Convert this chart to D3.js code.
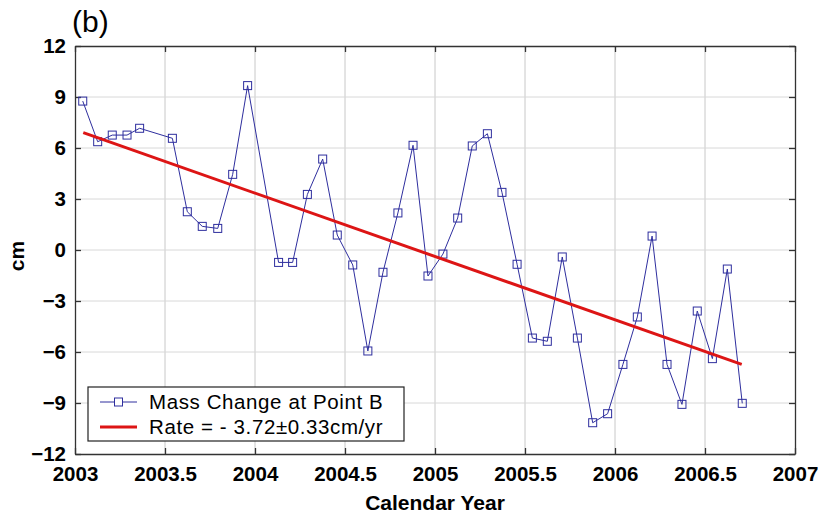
<!DOCTYPE html>
<html>
<head>
<meta charset="utf-8">
<script src="https://cdn.jsdelivr.net/npm/d3@7"></script>
<style>
  body { margin: 0; background: #fff; }
  text { font-family: "Liberation Sans", Arial, sans-serif; }
  .axis text { font-size: 20.5px; font-weight: bold; }
  .label { font-size: 21px; font-weight: bold; }
</style>
</head>
<body>
<script>
var margin = {top: 46, right: 27, bottom: 64, left: 75};
var width = 822 - margin.left - margin.right;
var height = 518 - margin.top - margin.bottom;

// data (decimal year, cm)
var years = [2003.043, 2003.126, 2003.207, 2003.289, 2003.359, 2003.541, 2003.624, 2003.707,
  2003.793, 2003.876, 2003.959, 2004.131, 2004.209, 2004.291, 2004.376, 2004.457, 2004.543,
  2004.627, 2004.711, 2004.794, 2004.878, 2004.961, 2005.044, 2005.126, 2005.207, 2005.291,
  2005.372, 2005.456, 2005.541, 2005.624, 2005.707, 2005.791, 2005.876, 2005.959, 2006.044,
  2006.124, 2006.206, 2006.289, 2006.372, 2006.457, 2006.541, 2006.624, 2006.707];
var mass = [8.76, 6.37, 6.76, 6.76, 7.16, 6.57, 2.25, 1.39, 1.27, 4.45, 9.67, -0.73, -0.73,
  3.27, 5.35, 0.88, -0.88, -5.94, -1.31, 2.18, 6.16, -1.53, -0.24, 1.88, 6.12, 6.84, 3.39,
  -0.84, -5.18, -5.37, -0.41, -5.18, -10.16, -9.63, -6.73, -3.94, 0.82, -6.73, -9.08, -3.59,
  -6.39, -1.12, -9.02];
var rateYears = [2003.046, 2006.704];
var rateValues = [6.9, -6.73];
var xTicks = [2003, 2003.5, 2004, 2004.5, 2005, 2005.5, 2006, 2006.5, 2007];
var yTicks = [-12, -9, -6, -3, 0, 3, 6, 9, 12];
var legendLabels = ['Mass Change at Point B', 'Rate = - 3.72\u00b10.33cm/yr'];

var blue = '#2e2e9e';
var red = '#dd1515';

var svg = d3.select('body')
  .append('svg')
  .attr('width', 822)
  .attr('height', 518)
.append('g')
  .attr('transform', 'translate(' + margin.left + ',' + margin.top + ')');

var xScale = d3.scaleLinear().domain([2003, 2007]).range([0, width]);
var yScale = d3.scaleLinear().domain([-12, 12]).range([height, 0]);

// grid
svg.append('g').selectAll('line')
  .data(xTicks.slice(1, -1)).enter().append('line')
  .attr('x1', function(d){ return xScale(d); })
  .attr('x2', function(d){ return xScale(d); })
  .attr('y1', 0).attr('y2', height)
  .attr('stroke', '#c8c8c8').attr('stroke-width', 1);
svg.append('g').selectAll('line')
  .data(yTicks.slice(1, -1)).enter().append('line')
  .attr('y1', function(d){ return yScale(d); })
  .attr('y2', function(d){ return yScale(d); })
  .attr('x1', 0).attr('x2', width)
  .attr('stroke', '#d8d8d8').attr('stroke-width', 1);

// axes, ticks point inward
var xAxis = d3.axisBottom(xScale).tickValues(xTicks).tickSizeInner(-6).tickSizeOuter(0)
  .tickPadding(12).tickFormat(function(d){ return String(d); });
var yAxis = d3.axisLeft(yScale).tickValues(yTicks).tickSizeInner(-6).tickSizeOuter(0).tickPadding(9);

svg.append('g')
  .attr('class', 'x axis')
  .attr('transform', 'translate(0,' + height + ')')
  .call(xAxis);
svg.append('g')
  .attr('class', 'y axis')
  .call(yAxis);
svg.append('g')
  .attr('transform', 'translate(0,0)')
  .call(d3.axisTop(xScale).tickValues(xTicks).tickSizeInner(-6).tickSizeOuter(0).tickFormat(''));
svg.append('g')
  .attr('transform', 'translate(' + width + ',0)')
  .call(d3.axisRight(yScale).tickValues(yTicks).tickSizeInner(-6).tickSizeOuter(0).tickFormat(''));

svg.selectAll('.domain').attr('stroke', '#333').attr('stroke-width', 1.3);
svg.selectAll('.tick line').attr('stroke', '#333').attr('stroke-width', 1.3);
svg.selectAll('.axis text').attr('fill', '#000');

// data line + square markers
var pts = years.map(function(y, i){ return [y, mass[i]]; });
var line = d3.line()
  .x(function(d){ return xScale(d[0]); })
  .y(function(d){ return yScale(d[1]); });

svg.append('path')
  .datum(pts)
  .attr('d', line)
  .attr('fill', 'none')
  .attr('stroke', blue)
  .attr('stroke-width', 1);

svg.selectAll('.square')
  .data(pts).enter().append('rect')
  .attr('class', 'square')
  .attr('x', function(d){ return xScale(d[0]) - 4; })
  .attr('y', function(d){ return yScale(d[1]) - 4; })
  .attr('width', 8).attr('height', 8)
  .attr('fill', 'none')
  .attr('stroke', blue)
  .attr('stroke-width', 1);

// rate line
svg.append('path')
  .datum(rateYears.map(function(y, i){ return [y, rateValues[i]]; }))
  .attr('d', line)
  .attr('fill', 'none')
  .attr('stroke', red)
  .attr('stroke-width', 3);

// labels
svg.append('text')
  .attr('class', 'label')
  .attr('x', width / 2)
  .attr('y', height + 56)
  .attr('text-anchor', 'middle')
  .text('Calendar Year');

svg.append('text')
  .attr('class', 'label')
  .attr('transform', 'translate(-51,' + (height / 2 + 6) + ') rotate(-90)')
  .attr('text-anchor', 'middle')
  .text('cm');

svg.append('text')
  .attr('x', -3)
  .attr('y', -14)
  .style('font-size', '30px')
  .text('(b)');

// legend
var legend = svg.append('g').attr('transform', 'translate(13,341)');
legend.append('rect')
  .attr('width', 316).attr('height', 54)
  .attr('fill', '#fff').attr('stroke', '#222').attr('stroke-width', 1.2);

var rows = legend.selectAll('.legend')
  .data(legendLabels).enter().append('g')
  .attr('class', 'legend')
  .attr('transform', function(d, i){ return 'translate(0,' + (15 + i * 25) + ')'; });

rows.append('line')
  .attr('x1', 12).attr('x2', 49)
  .attr('stroke', function(d, i){ return i == 0 ? blue : red; })
  .attr('stroke-width', function(d, i){ return i == 0 ? 1 : 3; });

rows.filter(function(d, i){ return i == 0; }).append('rect')
  .attr('x', 26.5).attr('y', -4).attr('width', 8).attr('height', 8)
  .attr('fill', '#fff').attr('stroke', blue);

rows.append('text')
  .attr('x', 61)
  .attr('y', 7)
  .style('font-size', '20.5px')
  .style('letter-spacing', '0.6px')
  .style('font-weight', 500)
  .text(function(d){ return d; });
</script>
</body>
</html>
